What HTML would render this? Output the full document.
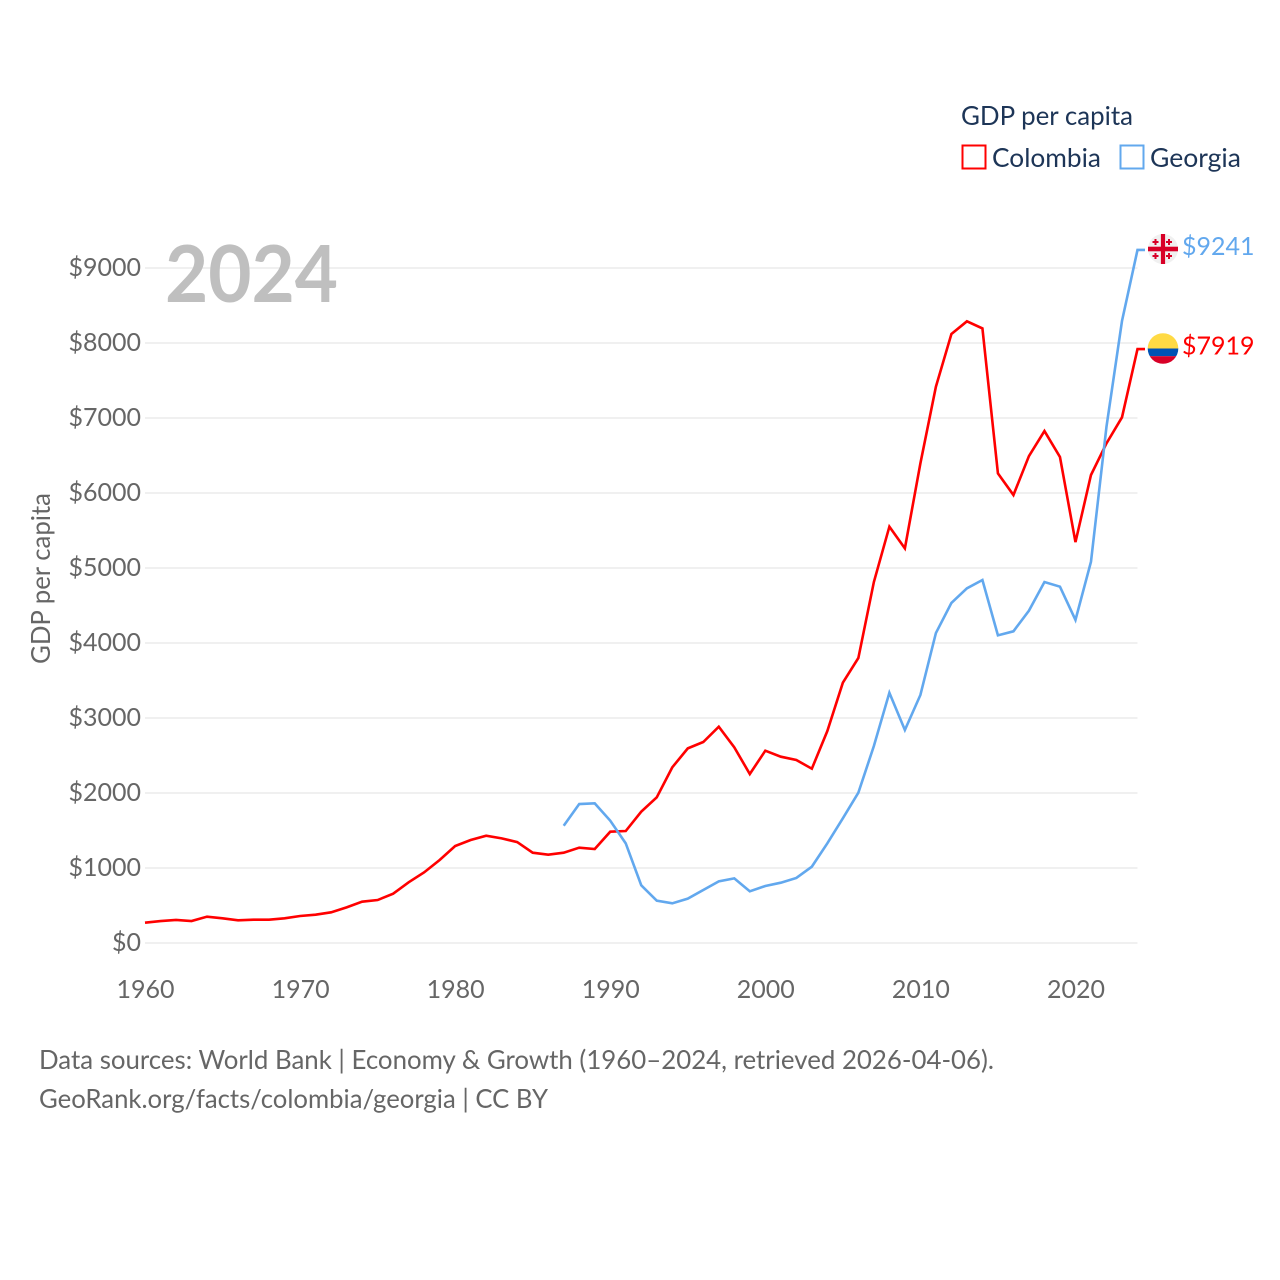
<!DOCTYPE html>
<html lang="en">
<head>
<meta charset="utf-8">
<title>GDP per capita: Colombia and Georgia</title>
<style>
  html, body { margin: 0; padding: 0; background: #fff; }
  svg { display: block; }
  text { font-family: "Lato", "Carlito", "Liberation Sans", sans-serif; }
</style>
</head>
<body>
<svg id="chart" xmlns="http://www.w3.org/2000/svg" width="1280" height="1280" viewBox="0 0 1280 1280">
  <rect x="0" y="0" width="1280" height="1280" fill="#ffffff"/>
  <g id="grid"></g>
  <g id="yticks"></g>
  <g id="xticks"></g>
  <text x="165" y="302" font-size="79" font-weight="700" fill="#bfbfbf" textLength="173" lengthAdjust="spacingAndGlyphs">2024</text>
  <text transform="translate(50,578.5) rotate(-90)" text-anchor="middle" font-size="25.85" fill="#666666" textLength="171" lengthAdjust="spacingAndGlyphs">GDP per capita</text>
  <g id="series"></g>

  <g>
    <circle cx="1163" cy="249" r="15" fill="#f0f0f0"/>
    <rect x="1148" y="246.7" width="30" height="4.6" fill="#d80027"/>
    <rect x="1160.9" y="234" width="4.2" height="30" fill="#d80027"/>
    <path fill="#d80027" d="M1154.5 239h2v2h2v2h-2v2h-2v-2h-2v-2h2zM1168 239h2v2h2v2h-2v2h-2v-2h-2v-2h2zM1154.5 253h2v2h2v2h-2v2h-2v-2h-2v-2h2zM1168 253h2v2h2v2h-2v2h-2v-2h-2v-2h2z"/>
  </g>
  <g>
    <clipPath id="colombia-clip"><circle cx="1163" cy="348.5" r="15.3"/></clipPath>
    <g clip-path="url(#colombia-clip)">
      <rect x="1147" y="333" width="32" height="15.5" fill="#ffda44"/>
      <rect x="1147" y="348.5" width="32" height="7.7" fill="#0052b4"/>
      <rect x="1147" y="356.2" width="32" height="8.3" fill="#d80027"/>
    </g>
  </g>
  <text id="label-georgia" x="1182" y="255" font-size="25" fill="#62a8ee"></text>
  <text id="label-colombia" x="1182" y="354.5" font-size="25" fill="#ff0000"></text>

  <g>
    <text x="961" y="125" font-size="25.85" fill="#1d3557" textLength="172" lengthAdjust="spacingAndGlyphs">GDP per capita</text>
    <rect x="962.5" y="145.5" width="23" height="23" fill="none" stroke="#ff0000" stroke-width="2"/>
    <text x="992" y="167" font-size="25.85" fill="#1d3557" textLength="109" lengthAdjust="spacingAndGlyphs">Colombia</text>
    <rect x="1120.5" y="145.5" width="23" height="23" fill="none" stroke="#62a8ee" stroke-width="2"/>
    <text x="1150" y="167" font-size="25.85" fill="#1d3557" textLength="91" lengthAdjust="spacingAndGlyphs">Georgia</text>
  </g>

  <text x="39" y="1069" font-size="25.85" fill="#666666" textLength="955" lengthAdjust="spacingAndGlyphs">Data sources: World Bank | Economy &amp; Growth (1960–2024, retrieved 2026-04-06).</text>
  <text x="39" y="1108" font-size="25.85" fill="#666666" textLength="509" lengthAdjust="spacingAndGlyphs">GeoRank.org/facts/colombia/georgia | CC BY</text>
</svg>

<script>
const yearStart = 1960;
const yearEnd = 2024;
const yTickValues = [0, 1000, 2000, 3000, 4000, 5000, 6000, 7000, 8000, 9000];
const xTickYears = [1960, 1970, 1980, 1990, 2000, 2010, 2020];
const colombiaYears = [1960,1961,1962,1963,1964,1965,1966,1967,1968,1969,1970,1971,1972,1973,1974,1975,1976,1977,1978,1979,1980,1981,1982,1983,1984,1985,1986,1987,1988,1989,1990,1991,1992,1993,1994,1995,1996,1997,1998,1999,2000,2001,2002,2003,2004,2005,2006,2007,2008,2009,2010,2011,2012,2013,2014,2015,2016,2017,2018,2019,2020,2021,2022,2023,2024];
const colombiaValues = [271,293,307,293,351,329,302,311,311,329,360,378,409,475,551,573,657,809,942,1107,1293,1373,1430,1395,1346,1204,1178,1204,1271,1253,1484,1493,1751,1942,2342,2595,2680,2884,2609,2253,2564,2484,2440,2324,2826,3471,3800,4813,5551,5262,6395,7417,8120,8289,8195,6262,5973,6493,6826,6480,5345,6240,6662,7009,7919];
const georgiaYears = [1987,1988,1989,1990,1991,1992,1993,1994,1995,1996,1997,1998,1999,2000,2001,2002,2003,2004,2005,2006,2007,2008,2009,2010,2011,2012,2013,2014,2015,2016,2017,2018,2019,2020,2021,2022,2023,2024];
const georgiaValues = [1564,1853,1862,1631,1329,769,564,529,591,707,822,862,689,760,804,867,1018,1329,1662,2004,2626,3337,2840,3307,4133,4535,4729,4840,4102,4156,4431,4813,4751,4307,5084,6884,8293,9241];

const SVG_NS = 'http://www.w3.org/2000/svg';
const plotLeft = 145;
const plotRight = 1137.5;
const zeroY = 943;
const pxPerUnit = 0.075;
const stubEnd = 1145;

function xScale(year) {
  return plotLeft + (year - yearStart) * (plotRight - plotLeft) / (yearEnd - yearStart);
}
function yScale(value) {
  return zeroY - value * pxPerUnit;
}

const gridGroup = document.getElementById('grid');
const yTickGroup = document.getElementById('yticks');
const xTickGroup = document.getElementById('xticks');
const seriesGroup = document.getElementById('series');

yTickValues.forEach(function (value) {
  const line = document.createElementNS(SVG_NS, 'line');
  
  
  line.setAttribute('x1', plotLeft);
  line.setAttribute('x2', plotRight);
  line.setAttribute('y1', yScale(value));
  line.setAttribute('y2', yScale(value));
  line.setAttribute('stroke', '#eeeeee');
  line.setAttribute('stroke-width', '1.7');
  gridGroup.appendChild(line);

  const label = document.createElementNS(SVG_NS, 'text');
  
  
  label.setAttribute('x', 141);
  label.setAttribute('y', yScale(value) + 8);
  label.setAttribute('text-anchor', 'end');
  label.setAttribute('font-size', '25');
  label.setAttribute('fill', '#666666');
  label.textContent = '$' + value;
  yTickGroup.appendChild(label);
});

xTickYears.forEach(function (year) {
  const label = document.createElementNS(SVG_NS, 'text');
  
  
  label.setAttribute('x', xScale(year) + 0.5);
  label.setAttribute('y', 998);
  label.setAttribute('text-anchor', 'middle');
  label.setAttribute('font-size', '25');
  label.setAttribute('fill', '#666666');
  label.textContent = year;
  xTickGroup.appendChild(label);
});

function drawSeries(name, years, values, color) {
  const points = years.map(function (year, i) {
    return xScale(year).toFixed(2) + ',' + yScale(values[i]).toFixed(2);
  });
  const last = values[values.length - 1];
  points.push(stubEnd + ',' + yScale(last).toFixed(2));
  const path = document.createElementNS(SVG_NS, 'polyline');
  
  
  path.setAttribute('points', points.join(' '));
  path.setAttribute('fill', 'none');
  path.setAttribute('stroke', color);
  path.setAttribute('stroke-width', '2.6');
  path.setAttribute('stroke-linejoin', 'miter');
  seriesGroup.appendChild(path);
}

drawSeries('colombia', colombiaYears, colombiaValues, '#ff0000');
drawSeries('georgia', georgiaYears, georgiaValues, '#62a8ee');

document.getElementById('label-georgia').textContent = '$' + georgiaValues[georgiaValues.length - 1];
document.getElementById('label-colombia').textContent = '$' + colombiaValues[colombiaValues.length - 1];
</script>
</body>
</html>
